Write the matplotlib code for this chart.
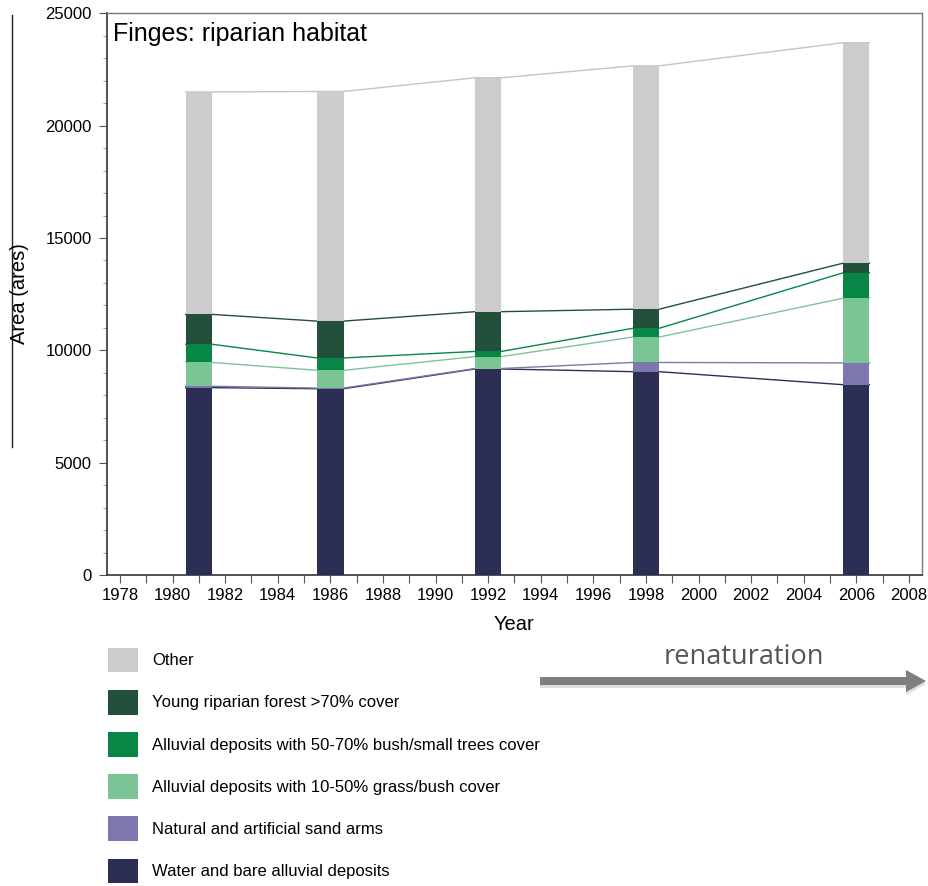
import matplotlib
matplotlib.use("Agg")
import matplotlib.pyplot as plt
from matplotlib.lines import Line2D
from matplotlib.patches import Patch
from matplotlib.ticker import MultipleLocator
import numpy as np

plt.rcParams["font.family"] = ["Liberation Sans", "DejaVu Sans"]

# ---------------------------------------------------------------------------
# Data (areas in ares)
# ---------------------------------------------------------------------------
years = [1981, 1986, 1992, 1998, 2006]

water = [8340, 8290, 9170, 9050, 8470]
sand = [60, 30, 20, 410, 970]
grass = [1060, 790, 530, 1130, 2880]
bush = [810, 550, 230, 390, 1130]
forest = [1330, 1640, 1770, 850, 430]
other = [9900, 10220, 10410, 10830, 9810]

series = [water, sand, grass, bush, forest, other]
labels = [
    "Water and bare alluvial deposits",
    "Natural and artificial sand arms",
    "Alluvial deposits with 10-50% grass/bush cover",
    "Alluvial deposits with 50-70% bush/small trees cover",
    "Young riparian forest >70% cover",
    "Other",
]
colors = ["#2d2e54", "#7d77af", "#7bc495", "#078646", "#22503a", "#cbcccb"]
line_colors = ["#2d2e54", "#7d77af", "#7bc495", "#078646", "#22503a", "#c4c4c4"]

fig = plt.figure(figsize=(9.29, 8.86), dpi=100)
ax = fig.add_axes([0.115, 0.351, 0.8775, 0.634])

bar_w = 1.0
x = np.array(years, dtype=float)
bottom = np.zeros(len(years))
for vals, c, lc in zip(series, colors, line_colors):
    vals = np.array(vals, dtype=float)
    ax.bar(x, vals, width=bar_w, bottom=bottom, color=c, edgecolor="none", zorder=3)
    top = bottom + vals
    # connecting lines from bar edge to bar edge
    lx = np.ravel(np.column_stack([x - bar_w / 2, x + bar_w / 2]))
    ly = np.repeat(top, 2)
    ax.plot(lx, ly, color=lc, lw=1.0, zorder=2)
    bottom = top

ax.set_xlim(1977.5, 2008.5)
ax.set_ylim(0, 25000)
ax.xaxis.set_major_locator(MultipleLocator(2))
ax.xaxis.set_minor_locator(MultipleLocator(1))
ax.yaxis.set_major_locator(MultipleLocator(5000))
ax.yaxis.set_minor_locator(MultipleLocator(1000))
ax.tick_params(axis="both", which="major", direction="out", length=6, width=0.8,
               labelsize=12, color="#555555")
ax.tick_params(axis="x", which="minor", direction="out", length=6, width=0.8, color="#555555")
ax.tick_params(axis="y", which="minor", direction="out", length=3, width=0.6, color="#888888")
ax.tick_params(axis="y", which="major", pad=5)
ax.tick_params(axis="x", which="major", pad=3)

for side in ["left", "bottom"]:
    ax.spines[side].set_color("#333333")
    ax.spines[side].set_linewidth(1.2)
for side in ["top", "right"]:
    ax.spines[side].set_color("#777777")
    ax.spines[side].set_linewidth(1.0)

ax.set_xlabel("Year", fontsize=14.5, labelpad=9)
ax.text(0.007, 0.985, "Finges: riparian habitat", transform=ax.transAxes,
        fontsize=18, va="top", ha="left")

# y label placed in the left margin, with the thin rule beside it
fig.text(20 / 929, 1 - 294 / 886, "Area (ares)", rotation=90, fontsize=14.5,
         ha="center", va="center")
fig.add_artist(Line2D([12 / 929, 12 / 929], [1 - 15 / 886, 1 - 447 / 886],
                      transform=fig.transFigure, color="#222222", lw=1.0))

# legend below the plot
handles = [Patch(facecolor=c, edgecolor="none") for c in colors[::-1]]
fig.legend(handles, labels[::-1], loc="upper left",
           bbox_to_anchor=(101 / 929, 1 - 641 / 886), frameon=False,
           fontsize=12, handlelength=1.8, handleheight=1.9,
           labelspacing=1.05, handletextpad=0.85, borderaxespad=0)

# renaturation arrow
fig.text(744 / 929, 1 - 657 / 886, "renaturation", fontsize=19.5, color="#555555",
         family=["Open Sans", "DejaVu Sans"], ha="center", va="center")
fig.patches.append(matplotlib.patches.FancyArrow(
    540 / 929, 1 - 684 / 886, 366 / 929, 0, width=8 / 886, head_width=22 / 886,
    head_length=20 / 929, length_includes_head=False, transform=fig.transFigure,
    color="#c8c8c8", alpha=0.6, lw=0))
fig.patches.append(matplotlib.patches.FancyArrow(
    540 / 929, 1 - 681 / 886, 366 / 929, 0, width=8 / 886, head_width=22 / 886,
    head_length=20 / 929, length_includes_head=False, transform=fig.transFigure,
    color="#7f7f7f", lw=0))

fig.savefig("out.png", dpi=100)
